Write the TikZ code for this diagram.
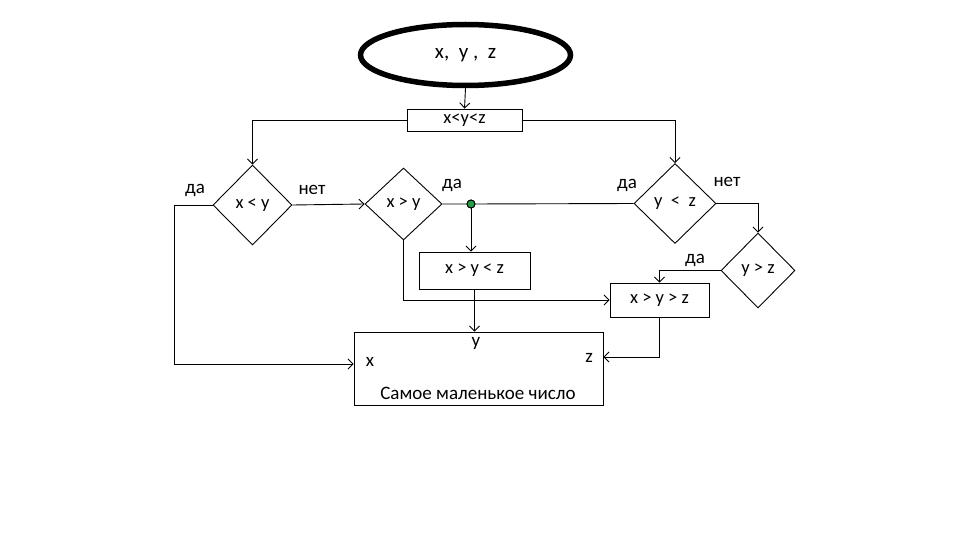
\documentclass[tikz,border=0pt]{standalone}
\usepackage{fontspec}
\setmainfont{Carlito}
\usetikzlibrary{shapes.geometric,arrows.meta}
\definecolor{dotgreen}{RGB}{34,160,70}
\begin{document}
\begin{tikzpicture}[x=1pt,y=-1pt, line width=0.9pt,
  >={Straight Barb[length=5pt,width=10pt]},
  box/.style={draw, rectangle, inner sep=0pt, font=\fontsize{18.5}{20}\selectfont},
  dec/.style={draw, diamond, inner sep=0pt, font=\fontsize{18.5}{20}\selectfont},
  lbl/.style={inner sep=0pt, font=\fontsize{19}{20}\selectfont}]
  \useasboundingbox[fill=white] (0,0) rectangle (960,540);
  % nodes
  \node[draw, ellipse, line width=5.5pt, minimum width=210pt, minimum height=61pt,
        inner sep=0pt, font=\fontsize{21}{24}\selectfont] (in) at (465.5,55) {x,\ \ y ,\ \ z};
  \node[box, minimum width=115pt, minimum height=22pt] (c0) at (464.5,120) {x<y<z};
  \node[dec, minimum width=79pt, minimum height=80pt] (d1) at (252.5,205) {x < y};
  \node[dec, minimum width=77pt, minimum height=72pt] (d2) at (403.5,204) {x > y};
  \node[dec, minimum width=82pt, minimum height=80pt] (d3) at (675,203.5) {y\ \ <\ \ z};
  \node[dec, minimum width=74pt, minimum height=75pt] (d4) at (758,270.5) {y > z};
  \node[box, minimum width=111pt, minimum height=37pt] (b1) at (474.5,270.5) {x > y < z};
  \node[box, minimum width=99pt, minimum height=34pt] (b2) at (659.5,300) {x > y > z};
  \node[box, minimum width=249pt, minimum height=73pt] (r) at (478.5,368.5) {};
  \node[lbl] (ry) at (476,343) {y};
  \node[lbl] (rx) at (370,362) {x};
  \node[lbl] (rz) at (589,358) {z};
  \node[lbl] (rt) at (478,393) {Самое маленькое число};
  \node[circle, draw, fill=dotgreen, minimum size=8pt, inner sep=0pt] (dot) at (471,204) {};
  % labels
  \node[lbl] (l1) at (195,190) {да};
  \node[lbl] (l2) at (312,190) {нет};
  \node[lbl] (l3) at (452,185) {да};
  \node[lbl] (l4) at (627,185) {да};
  \node[lbl] (l5) at (727,182) {нет};
  \node[lbl] (l6) at (695,260) {да};
  % helper coordinates
  \coordinate (k1) at (174,205);
  \coordinate (qx) at (0,364);
  \coordinate (qz) at (0,357);
  % connectors
  \draw[->] (in.south) -- (c0.north);
  \draw[->] (c0.west) -| (d1.north);
  \draw[->] (c0.east) -| (d3.north);
  \draw[->] (d1.west) -- (k1) -- (k1 |- qx) -- (r.west |- qx);
  \draw[->] (d1.east) -- (d2.west);
  \draw (d2.east) -- (dot) -- (d3.west);
  \draw[->] (dot) -- (dot |- b1.north);
  \draw[->] (d2.south) |- (b2.west);
  \draw[->] (b1.south) -- (b1.south |- r.north);
  \draw[->] (d3.east) -| (d4.north);
  \draw[->] (d4.west) -| (b2.north);
  \draw[->] (b2.south) -- (b2.south |- qz) -- (r.east |- qz);
  \node[circle, draw, fill=dotgreen, minimum size=8pt, inner sep=0pt] at (dot) {};
\end{tikzpicture}
\end{document}
